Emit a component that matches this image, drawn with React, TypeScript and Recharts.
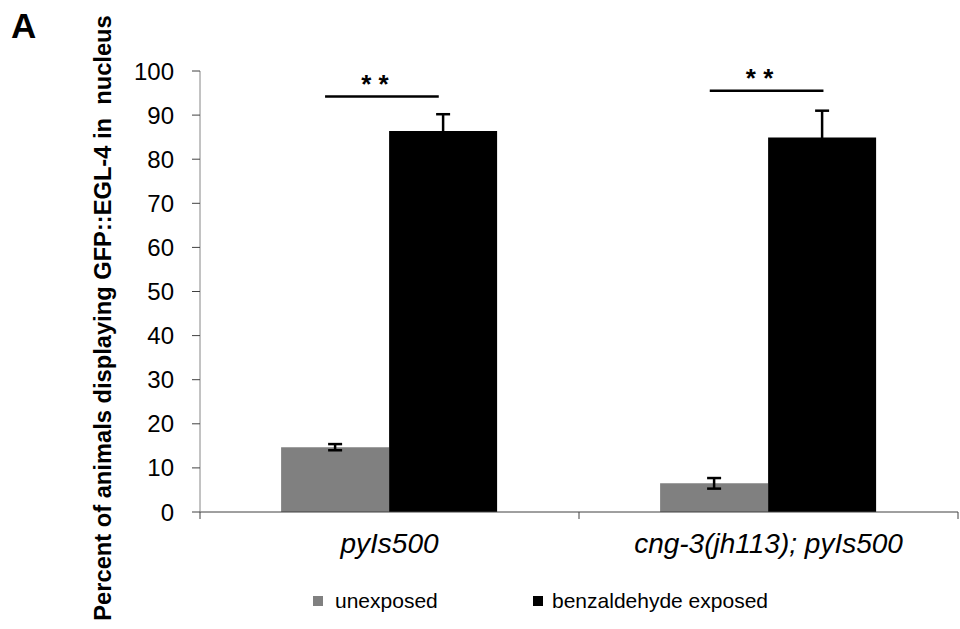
import React from 'react';
import { BarChart, Bar, XAxis, YAxis, ErrorBar, ReferenceLine, Customized } from 'recharts';

const categories = ['pyIs500', 'cng-3(jh113); pyIs500'];
const unexposed = [14.7, 6.5];
const unexposedErr = [0.7, 1.2];
const benzaldehyde = [86.4, 84.9];
const benzaldehydeErr = [3.8, 6.1];
const yTicks = [0, 10, 20, 30, 40, 50, 60, 70, 80, 90, 100];
const seriesNames = ['unexposed', 'benzaldehyde exposed'];
const seriesColors = ['#808080', '#000000'];
const sigBrackets = [
  { x1: 0.33, x2: 0.63, y: 94.2, label: '* *' },
  { x1: 1.345, x2: 1.645, y: 95.5, label: '* *' },
];

const data = categories.map((c, i) => ({
  name: c,
  pos: i + 0.5,
  unexposed: unexposed[i],
  unexposedErr: unexposedErr[i],
  benz: benzaldehyde[i],
  benzErr: benzaldehydeErr[i],
}));

const FONT = '"Liberation Sans", Arial, sans-serif';

const CategoryTick = (props: any) => {
  const { x, y, payload, index } = props;
  const step = 758 / categories.length;
  return (
    <g>
      <line x1={x - step / 2} y1={y} x2={x - step / 2} y2={y + 7} stroke="#404040" strokeWidth={1} />
      {index === categories.length - 1 && (
        <line x1={x + step / 2} y1={y} x2={x + step / 2} y2={y + 7} stroke="#404040" strokeWidth={1} />
      )}
      <text x={x} y={y + 41} textAnchor="middle" fontFamily={FONT} fontSize={28} fontStyle="italic" fill="#000">
        {payload.value}
      </text>
    </g>
  );
};

const legendX = [313, 533];
const legendTextGap = [22, 19];

const Annotations = () => (
  <g>
    <text x={11} y={38} fontFamily={FONT} fontSize={35} fontWeight="bold" fill="#000">A</text>
    <text
      transform="translate(111, 318) rotate(-90)"
      textAnchor="middle"
      fontFamily={FONT}
      fontSize={23.7}
      fontWeight="bold"
      fill="#000"
      xmlSpace="preserve"
    >
      Percent of animals displaying GFP::EGL-4 in  nucleus
    </text>
    {seriesNames.map((n, i) => (
      <g key={n}>
        <rect x={legendX[i]} y={596} width={10} height={10} fill={seriesColors[i]} />
        <text x={legendX[i] + legendTextGap[i]} y={608} fontFamily={FONT} fontSize={21} fill="#000">
          {n}
        </text>
      </g>
    ))}
  </g>
);

const starLabel = (text: string) => (props: any) => {
  const vb = props.viewBox || {};
  const cx = vb.x + (vb.width || 0) / 2 - 7;
  return (
    <text x={cx} y={vb.y - 4} textAnchor="middle" fontFamily={FONT} fontSize={26} fontWeight="bold" fill="#000" xmlSpace="preserve">
      {text}
    </text>
  );
};

export default function App() {
  return (
    <div style={{ position: 'fixed', left: 0, top: 0, background: '#fff' }}>
      <BarChart
        width={960}
        height={629}
        data={data}
        margin={{ top: 71, right: 2, bottom: 77, left: 120 }}
        barCategoryGap="21.4%"
        barGap={0}
      >
        <XAxis
          xAxisId="cat"
          dataKey="name"
          height={40}
          tickLine={false}
          tickSize={0}
          tickMargin={0}
          axisLine={{ stroke: '#404040', strokeWidth: 1 }}
          tick={<CategoryTick />}
          interval={0}
        />
        <XAxis xAxisId="num" dataKey="pos" type="number" domain={[0, 2]} allowDataOverflow hide />
        <YAxis
          width={80}
          domain={[0, 100]}
          ticks={yTicks}
          interval={0}
          tickSize={8}
          tickMargin={18}
          axisLine={{ stroke: '#868686', strokeWidth: 1 }}
          tickLine={{ stroke: '#404040', strokeWidth: 1 }}
          tick={{ fontFamily: FONT, fontSize: 24, fill: '#000' }}
        />
        <Bar xAxisId="cat" dataKey="unexposed" name={seriesNames[0]} fill={seriesColors[0]} isAnimationActive={false}>
          <ErrorBar dataKey="unexposedErr" width={7} stroke="#000" strokeWidth={2.5} direction="y" />
        </Bar>
        <Bar xAxisId="cat" dataKey="benz" name={seriesNames[1]} fill={seriesColors[1]} isAnimationActive={false}>
          <ErrorBar dataKey="benzErr" width={7} stroke="#000" strokeWidth={2.5} direction="y" />
        </Bar>
        {sigBrackets.map((s, i) => (
          <ReferenceLine
            key={i}
            xAxisId="num"
            segment={[{ x: s.x1, y: s.y }, { x: s.x2, y: s.y }]}
            stroke="#000"
            strokeWidth={2.5}
            label={starLabel(s.label)}
            ifOverflow="visible"
          />
        ))}
        <Customized component={<Annotations />} />
      </BarChart>
    </div>
  );
}
